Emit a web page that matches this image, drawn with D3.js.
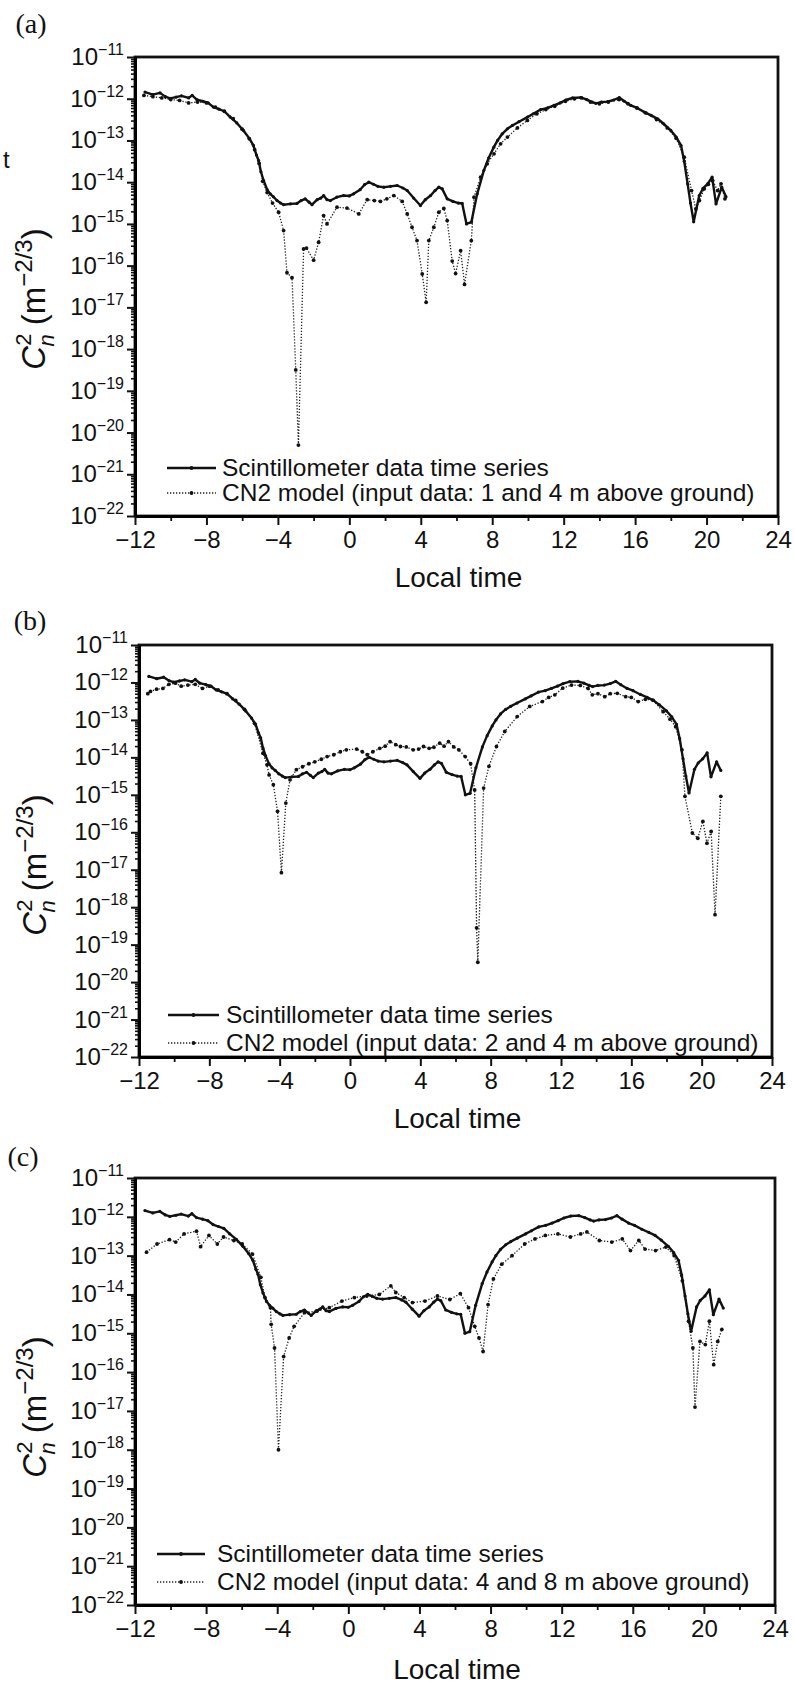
<!DOCTYPE html>
<html>
<head>
<meta charset="utf-8">
<script src="https://cdn.jsdelivr.net/npm/d3@7"></script>
<style>
  body { margin: 0; background: #fff; }
  svg text { font-family: "Liberation Sans", Arial, sans-serif; fill: #111; }
</style>
</head>
<body>
<svg id="fig" width="794" height="1687"></svg>
<script>
// ---- data (time in local hours, values are log10 of Cn2) ----
const panelLabels = ["(a)", "(b)", "(c)"];
const scintName = "Scintillometer data time series";
const modelNames = [
  "CN2 model (input data: 1 and 4 m above ground)",
  "CN2 model (input data: 2 and 4 m above ground)",
  "CN2 model (input data: 4 and 8 m above ground)"
];
const timeTicks = [-12, -8, -4, 0, 4, 8, 12, 16, 20, 24];
const timeMinor = [-10, -6, -2, 2, 6, 10, 14, 18, 22];
const powers = [-11, -12, -13, -14, -15, -16, -17, -18, -19, -20, -21, -22];

// scintillometer series (same in all three panels)
const scint = [
  [-11.44,-11.84],[-11.0,-11.9],[-10.6,-11.86],[-10.3,-11.95],[-10.04,-11.99],[-9.7,-11.96],
  [-9.4,-11.93],[-9.0,-11.98],[-8.8,-11.92],[-8.54,-12.02],[-8.2,-12.06],[-7.9,-12.1],
  [-7.61,-12.2],[-7.3,-12.25],[-7.0,-12.3],[-6.67,-12.44],[-6.3,-12.58],[-5.93,-12.76],
  [-5.6,-12.95],[-5.37,-13.12],[-5.2,-13.35],[-5.08,-13.48],[-4.95,-13.75],[-4.8,-13.96],
  [-4.6,-14.18],[-4.43,-14.28],[-4.25,-14.35],[-4.05,-14.44],[-3.85,-14.5],[-3.68,-14.54],
  [-3.3,-14.52],[-2.93,-14.51],[-2.7,-14.44],[-2.47,-14.4],[-2.25,-14.48],[-2.09,-14.54],
  [-1.8,-14.42],[-1.6,-14.38],[-1.44,-14.32],[-1.25,-14.42],[-1.06,-14.44],[-0.7,-14.36],
  [-0.32,-14.32],[0.0,-14.33],[0.24,-14.28],[0.6,-14.18],[0.85,-14.06],[1.09,-14.0],
  [1.35,-14.05],[1.6,-14.1],[1.93,-14.12],[2.3,-14.1],[2.68,-14.08],[3.0,-14.14],
  [3.24,-14.2],[3.6,-14.38],[3.98,-14.56],[4.25,-14.42],[4.55,-14.32],[4.8,-14.2],
  [5.01,-14.12],[5.2,-14.16],[5.48,-14.4],[5.8,-14.46],[6.1,-14.5],[6.32,-14.51],
  [6.56,-15.0],[6.83,-14.96],[7.16,-14.28],[7.53,-13.72],[7.8,-13.42],[8.09,-13.16],
  [8.3,-13.0],[8.56,-12.84],[8.85,-12.72],[9.13,-12.64],[9.5,-12.55],[9.97,-12.44],
  [10.3,-12.36],[10.71,-12.26],[11.1,-12.22],[11.46,-12.16],[11.8,-12.1],[12.12,-12.03],
  [12.5,-11.98],[12.96,-11.97],[13.3,-12.02],[13.6,-12.08],[13.8,-12.11],[14.1,-12.08],
  [14.46,-12.07],[14.8,-12.03],[15.11,-11.97],[15.4,-12.06],[15.76,-12.16],[16.1,-12.22],
  [16.51,-12.32],[16.9,-12.4],[17.26,-12.48],[17.6,-12.6],[18.0,-12.76],[18.3,-12.92],
  [18.57,-13.12],[18.75,-13.5],[18.94,-14.04],[19.1,-14.5],[19.28,-14.95],[19.59,-14.32],
  [19.8,-14.15],[20.06,-14.04],[20.31,-13.88],[20.53,-14.52],[20.85,-14.12],[21.09,-14.35]
];

// CN2 model, input 1 and 4 m
const model14 = [
  [-11.5,-11.92],[-11.0,-11.95],[-10.5,-11.98],[-10.0,-12.02],[-9.5,-12.04],[-9.0,-12.1],
  [-8.5,-12.08],[-8.0,-12.1],[-7.5,-12.2],[-7.0,-12.3],[-6.5,-12.48],[-6.0,-12.73],
  [-5.6,-12.96],[-5.3,-13.22],[-5.05,-13.55],[-4.85,-13.98],[-4.6,-14.25],[-4.3,-14.5],
  [-3.96,-14.72],[-3.68,-15.16],[-3.49,-16.17],[-3.21,-16.29],[-3.0,-18.5],[-2.85,-20.3],
  [-2.56,-15.6],[-2.4,-15.58],[-2.0,-15.87],[-1.72,-15.44],[-1.44,-14.8],[-1.25,-15.0],
  [-0.69,-14.6],[-0.13,-14.62],[0.53,-14.76],[1.0,-14.42],[1.4,-14.44],[1.74,-14.46],
  [2.1,-14.4],[2.49,-14.32],[2.96,-14.46],[3.24,-14.76],[3.51,-15.08],[3.79,-15.4],
  [4.08,-16.2],[4.3,-16.88],[4.45,-15.4],[4.73,-15.08],[5.01,-14.72],[5.29,-14.63],
  [5.48,-14.92],[5.76,-15.89],[5.95,-16.19],[6.23,-15.64],[6.45,-16.45],[6.83,-15.4],
  [6.98,-14.36],[7.35,-13.88],[7.72,-13.56],[8.1,-13.32],[8.47,-13.08],[8.85,-12.92],
  [9.41,-12.7],[9.97,-12.52],[10.5,-12.36],[11.0,-12.26],[11.5,-12.18],[12.1,-12.06],
  [12.6,-12.0],[13.0,-11.98],[13.5,-12.08],[14.0,-12.12],[14.5,-12.08],[15.1,-12.02],
  [15.6,-12.12],[16.1,-12.22],[16.6,-12.34],[17.2,-12.5],[17.8,-12.7],[18.3,-12.95],
  [18.75,-13.4],[19.16,-14.2],[19.4,-14.64],[19.6,-14.44],[19.87,-14.16],[20.1,-14.05],
  [20.34,-13.96],[20.62,-14.2],[20.81,-14.04],[21.03,-14.4]
];

// CN2 model, input 2 and 4 m
const model24 = [
  [-11.5,-12.3],[-11.35,-12.24],[-11.0,-12.18],[-10.64,-12.16],[-10.3,-12.05],[-9.93,-12.02],
  [-9.6,-12.1],[-9.22,-12.07],[-8.8,-12.05],[-8.39,-12.16],[-8.0,-12.1],[-7.5,-12.2],
  [-7.0,-12.3],[-6.5,-12.48],[-6.0,-12.72],[-5.43,-13.09],[-4.95,-13.89],[-4.72,-14.2],
  [-4.6,-14.47],[-4.36,-14.73],[-4.12,-15.44],[-3.9,-17.08],[-3.65,-15.22],[-3.41,-14.6],
  [-3.05,-14.33],[-2.7,-14.25],[-2.34,-14.17],[-2.0,-14.12],[-1.63,-14.05],[-1.3,-13.98],
  [-0.92,-13.93],[-0.55,-13.85],[-0.21,-13.8],[0.38,-13.78],[0.7,-13.85],[0.98,-13.93],
  [1.3,-13.85],[1.69,-13.76],[2.0,-13.7],[2.28,-13.58],[2.6,-13.66],[2.87,-13.71],
  [3.2,-13.72],[3.59,-13.8],[3.9,-13.78],[4.18,-13.71],[4.5,-13.76],[4.77,-13.73],
  [5.1,-13.62],[5.35,-13.7],[5.6,-13.58],[5.9,-13.72],[6.19,-13.8],[6.55,-13.98],
  [6.86,-14.17],[7.09,-14.87],[7.2,-18.55],[7.27,-19.47],[7.6,-14.82],[7.9,-14.24],
  [8.33,-13.71],[8.8,-13.31],[9.51,-12.91],[10.22,-12.64],[10.94,-12.51],[11.3,-12.4],
  [11.65,-12.33],[12.1,-12.15],[12.6,-12.07],[13.1,-12.08],[13.54,-12.16],[13.78,-12.33],
  [14.1,-12.3],[14.49,-12.38],[14.8,-12.3],[15.2,-12.29],[15.68,-12.38],[16.0,-12.4],
  [16.39,-12.51],[16.8,-12.45],[17.22,-12.47],[17.81,-12.78],[18.2,-12.98],[18.52,-13.18],
  [18.88,-13.8],[19.05,-15.04],[19.47,-16.02],[19.78,-16.16],[20.07,-15.71],[20.3,-16.29],
  [20.54,-15.98],[20.76,-18.2],[21.09,-15.04]
];

// CN2 model, input 4 and 8 m
const model48 = [
  [-11.35,-12.91],[-10.76,-12.7],[-10.06,-12.59],[-9.71,-12.65],[-9.24,-12.44],[-8.54,-12.37],
  [-8.31,-12.77],[-7.84,-12.48],[-7.37,-12.7],[-7.02,-12.52],[-6.44,-12.61],[-5.97,-12.7],
  [-5.39,-12.96],[-4.92,-13.56],[-4.69,-14.08],[-4.38,-14.34],[-4.34,-14.77],[-4.15,-15.38],
  [-3.93,-18.0],[-3.64,-15.6],[-3.33,-15.12],[-3.05,-14.82],[-2.47,-14.47],[-1.77,-14.43],
  [-1.07,-14.34],[-0.36,-14.17],[0.34,-14.08],[1.04,-14.04],[1.74,-14.0],[2.39,-13.78],
  [2.67,-13.95],[3.14,-14.08],[3.61,-14.21],[4.31,-14.17],[5.01,-14.04],[5.71,-14.13],
  [6.3,-13.98],[6.76,-14.34],[7.11,-14.82],[7.35,-15.12],[7.58,-15.47],[7.86,-14.26],
  [8.16,-13.6],[8.63,-13.22],[9.21,-13.0],[9.92,-12.7],[10.5,-12.57],[11.08,-12.48],
  [11.79,-12.44],[12.49,-12.52],[13.07,-12.44],[13.42,-12.39],[14.12,-12.61],[14.82,-12.65],
  [15.41,-12.57],[15.87,-12.87],[16.34,-12.61],[16.69,-12.83],[17.28,-12.87],[17.86,-12.78],
  [18.33,-13.0],[18.79,-13.65],[19.14,-14.69],[19.38,-15.38],[19.5,-16.9],[19.78,-15.21],
  [20.08,-15.29],[20.31,-14.69],[20.55,-15.81],[20.78,-15.21],[21.01,-14.9]
];

const models = [model14, model24, model48];

// ---- layout of the three stacked panels ----
const panels = [
  { x0: 135, x1: 778, y0: 57,   y1: 516,  lab: [31, 24],   leg: [167, 216, 222, 468, 493],  ylab: [34, 299],  title: 587 },
  { x0: 139, x1: 772, y0: 645,  y1: 1057, lab: [30, 621],  leg: [168, 219, 226, 1015, 1043], ylab: [35, 865], title: 1128 },
  { x0: 135, x1: 775, y0: 1178, y1: 1605, lab: [23, 1157], leg: [157, 205, 217, 1554, 1582], ylab: [35, 1407], title: 1679 }
];

const svg = d3.select("#fig");

// stray character from the scanned page edge
svg.append("text").attr("x", 3).attr("y", 168).style("font-size", "24px").text("t");

panels.forEach((p, i) => {
  const g = svg.append("g");

  const x = d3.scaleLinear().domain([-12, 24]).range([p.x0, p.x1]);
  const y = d3.scaleLog().domain([1e-22, 1e-11]).range([p.y1, p.y0]);

  // frame
  g.append("rect")
    .attr("x", p.x0).attr("y", p.y0)
    .attr("width", p.x1 - p.x0).attr("height", p.y1 - p.y0)
    .attr("fill", "none").attr("stroke", "#111").attr("stroke-width", 2.8);

  // y axis: major + minor log ticks
  const majors = powers.map(e => Math.pow(10, e));
  const minors = [];
  powers.slice(1).forEach(e => {
    for (let m = 2; m <= 9; m++) minors.push(m * Math.pow(10, e));
  });

  g.append("g")
    .attr("transform", "translate(" + p.x0 + ",0)")
    .call(d3.axisLeft(y).tickValues(minors).tickSize(4).tickSizeOuter(0).tickFormat(""))
    .call(a => a.select(".domain").remove())
    .selectAll("line").attr("stroke", "#111").attr("stroke-width", 1.6);

  g.append("g")
    .attr("transform", "translate(" + p.x0 + ",0)")
    .call(d3.axisLeft(y).tickValues(majors).tickSize(8).tickSizeOuter(0).tickFormat(""))
    .call(a => a.select(".domain").attr("stroke-width", 3))
    .selectAll("line").attr("stroke", "#111").attr("stroke-width", 2);

  powers.forEach(e => {
    const t = g.append("text")
      .attr("x", p.x0 - 11)
      .attr("y", y(Math.pow(10, e)) + 8)
      .attr("text-anchor", "end")
      .style("font-size", "24px");
    t.append("tspan").text("10");
    t.append("tspan").attr("dy", -10).style("font-size", "16px").text("\u2212" + (-e));
  });

  // x axis
  g.append("g")
    .attr("transform", "translate(0," + p.y1 + ")")
    .call(d3.axisBottom(x).tickValues(timeMinor).tickSize(5).tickSizeOuter(0).tickFormat(""))
    .call(a => a.select(".domain").remove())
    .selectAll("line").attr("stroke", "#111").attr("stroke-width", 1.8);

  g.append("g")
    .attr("transform", "translate(0," + p.y1 + ")")
    .call(d3.axisBottom(x).tickValues(timeTicks).tickSize(9).tickSizeOuter(0).tickPadding(6))
    .call(a => a.select(".domain").attr("stroke-width", 3))
    .call(a => a.selectAll("line").attr("stroke", "#111").attr("stroke-width", 2))
    .call(a => a.selectAll("text")
      .style("font-size", "24px")
      .style("font-family", "\"Liberation Sans\", Arial, sans-serif")
      .attr("fill", "#111"));

  // axis titles
  g.append("text")
    .attr("x", (p.x0 + p.x1) / 2 + 2)
    .attr("y", p.title)
    .attr("text-anchor", "middle")
    .style("font-size", "28px")
    .text("Local time");

  const yl = g.append("text")
    .attr("transform", "translate(" + (p.ylab[0] + 11) + "," + p.ylab[1] + ") rotate(-90)")
    .attr("text-anchor", "middle")
    .style("font-size", "33px");
  yl.append("tspan").style("font-style", "italic").text("C");
  yl.append("tspan").attr("dy", -14).style("font-size", "22px").text("2");
  yl.append("tspan").attr("dx", -13).attr("dy", 23).style("font-size", "22px").style("font-style", "italic").text("n");
  yl.append("tspan").attr("dy", -9).text(" (m");
  yl.append("tspan").attr("dy", -13).style("font-size", "24px").text("\u22122/3");
  yl.append("tspan").attr("dy", 13).text(")");

  // panel label
  g.append("text")
    .attr("x", p.lab[0]).attr("y", p.lab[1] + 9)
    .attr("text-anchor", "middle")
    .style("font-family", "\"Liberation Serif\", \"DejaVu Serif\", serif")
    .style("font-size", "28px")
    .text(panelLabels[i]);

  // series
  const line = d3.line()
    .x(d => x(d[0]))
    .y(d => y(Math.pow(10, d[1])));

  const model = models[i];
  g.append("path")
    .datum(model)
    .attr("d", line)
    .attr("fill", "none")
    .attr("stroke", "#222")
    .attr("stroke-width", 1.3)
    .attr("stroke-dasharray", "1.3,1.7");
  g.selectAll(".mdot")
    .data(model)
    .join("circle")
    .attr("class", "mdot")
    .attr("cx", d => x(d[0]))
    .attr("cy", d => y(Math.pow(10, d[1])))
    .attr("r", 1.9)
    .attr("fill", "#111");

  g.append("path")
    .datum(scint)
    .attr("d", line)
    .attr("fill", "none")
    .attr("stroke", "#111")
    .attr("stroke-width", 2.4)
    .attr("stroke-linejoin", "round");
  g.selectAll(".sdot")
    .data(scint)
    .join("circle")
    .attr("class", "sdot")
    .attr("cx", d => x(d[0]))
    .attr("cy", d => y(Math.pow(10, d[1])))
    .attr("r", 1.6)
    .attr("fill", "#111");

  // legend
  const [lx0, lx1, lt, r1, r2] = p.leg;
  g.append("line").attr("x1", lx0).attr("x2", lx1).attr("y1", r1).attr("y2", r1)
    .attr("stroke", "#111").attr("stroke-width", 2.4);
  g.append("circle").attr("cx", (lx0 + lx1) / 2).attr("cy", r1).attr("r", 1.9).attr("fill", "#111");
  g.append("text").attr("x", lt).attr("y", r1 + 8).style("font-size", "24.5px").text(scintName);

  g.append("line").attr("x1", lx0).attr("x2", lx1).attr("y1", r2).attr("y2", r2)
    .attr("stroke", "#222").attr("stroke-width", 1.3).attr("stroke-dasharray", "1.3,1.7");
  g.append("circle").attr("cx", (lx0 + lx1) / 2).attr("cy", r2).attr("r", 1.9).attr("fill", "#111");
  g.append("text").attr("x", lt).attr("y", r2 + 8).style("font-size", "24.5px").text(modelNames[i]);
});
</script>
</body>
</html>
